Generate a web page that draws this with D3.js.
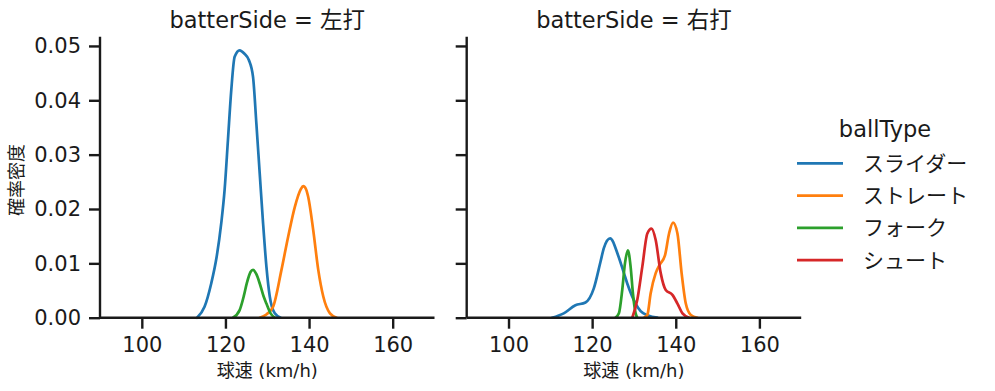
<!DOCTYPE html>
<html>
<head>
<meta charset="utf-8">
<script src="https://cdn.jsdelivr.net/npm/d3@7"></script>
<style>
  body { margin: 0; background: #fff; }
  svg text { font-family: "DejaVu Sans", "Noto Sans CJK JP", sans-serif; fill: #1a1a1a; }
</style>
</head>
<body>
<div id="chart"></div>
<script>
var width = 995,
    height = 391;

// facet values and legend categories
var panels = ["左打", "右打"];
var ballTypes = ["スライダー", "ストレート", "フォーク", "シュート"];
var colors = ["#1f77b4", "#ff7f0e", "#2ca02c", "#d62728"];
var xTicks = [100, 120, 140, 160];
var yTicks = [0, 0.01, 0.02, 0.03, 0.04, 0.05];

// density curves: [speed, density]
var leftSlider = [[113.2,0],[115,0.002],[116.6,0.0063],[117.9,0.0112],[119,0.0174],[119.8,0.0235],[120.6,0.0327],[121.4,0.0419],[122.2,0.048],[123.4,0.0492],[124.5,0.0486],[125.6,0.0474],[126.6,0.0443],[127.4,0.0357],[128.2,0.0265],[129.0,0.0174],[129.8,0.0094],[130.6,0.0039],[131.8,0.0008],[133.2,0]];
var leftStraight = [[128.2,0],[129.8,0.0006],[131.4,0.002],[133.4,0.0088],[135.0,0.0149],[136.6,0.0204],[138.0,0.0236],[138.6,0.0242],[139.3,0.0236],[139.8,0.0222],[141.0,0.0161],[142.2,0.0088],[143.4,0.0039],[145.0,0.0008],[146.6,0]];
var leftFork = [[121.8,0],[123.4,0.0014],[124.4,0.004],[125.1,0.0063],[126.0,0.0084],[126.6,0.0088],[127.4,0.008],[128.2,0.0063],[129.1,0.004],[129.8,0.0026],[130.8,0.0008],[131.8,0]];
var rightSlider = [[110.4,0],[113.2,0.0008],[116.0,0.0023],[118.4,0.0028],[120.4,0.0054],[122.0,0.0103],[122.8,0.0128],[124.3,0.0146],[126.2,0.0115],[127.6,0.0082],[128.4,0.0063],[130.4,0.0026],[131.6,0.0012],[133.4,0.0004],[135.6,0]];
var rightStraight = [[132.4,0],[133.2,0.0005],[134.0,0.0045],[135.2,0.0082],[136.2,0.0098],[137.4,0.0114],[138.4,0.0155],[139.35,0.0175],[140.4,0.0155],[141.4,0.0082],[142.4,0.0026],[143.6,0.0005],[145.2,0]];
var rightFork = [[125.6,0],[126.4,0.0008],[127.2,0.0051],[127.85,0.01],[128.55,0.0124],[129.2,0.0094],[129.75,0.0045],[130.4,0.0008],[130.8,0]];
var rightShoot = [[129.6,0],[130.8,0.0033],[132.0,0.0094],[133.2,0.0155],[134.2,0.0164],[135.2,0.0143],[136.4,0.0082],[137.6,0.0051],[139.2,0.0042],[140.4,0.0026],[141.6,0.0008],[143.2,0]];

var series = [
  [leftSlider, leftStraight, leftFork, null],
  [rightSlider, rightStraight, rightFork, rightShoot]
];

var svg = d3.select("#chart").append("svg")
    .attr("width", width)
    .attr("height", height);

var y = d3.scaleLinear()
    .domain([0, 0.0517])
    .range([317.7, 36.7]);

var panelLeft = [100, 466.7],
    panelWidth = 334.5;

var line = d3.line()
    .x(function(d) { return d[0]; })
    .y(function(d) { return d[1]; })
    .curve(d3.curveMonotoneX);

panels.forEach(function(side, i) {
    var x = d3.scaleLinear()
        .domain([90, 170])
        .range([panelLeft[i], panelLeft[i] + panelWidth]);

    var g = svg.append("g");

    // curves
    series[i].forEach(function(pts, j) {
        if (!pts) return;
        g.append("path")
            .attr("d", line(pts.map(function(p) { return [x(p[0]), y(p[1])]; })))
            .attr("fill", "none")
            .attr("stroke", colors[j])
            .attr("stroke-width", 2.7)
            .attr("stroke-linejoin", "round")
            .attr("stroke-linecap", "round");
    });

    // x axis
    var xa = g.append("g")
        .attr("transform", "translate(0," + y(0) + ")")
        .call(d3.axisBottom(x).tickValues(xTicks).tickSize(11).tickPadding(8).tickSizeOuter(0));
    // y axis
    var ya = g.append("g")
        .attr("transform", "translate(" + panelLeft[i] + ",0)")
        .call(d3.axisLeft(y).tickValues(yTicks).tickSize(11).tickPadding(8).tickSizeOuter(0)
              .tickFormat(i === 0 ? d3.format(".2f") : ""));

    [xa, ya].forEach(function(a) {
        a.select(".domain").attr("stroke", "#1a1a1a").attr("stroke-width", 2.4);
        a.selectAll(".tick line").attr("stroke", "#1a1a1a").attr("stroke-width", 2.4);
        a.selectAll(".tick text").attr("font-size", 21).attr("fill", "#1a1a1a")
            .style("font-family", "'DejaVu Sans', sans-serif");
    });
    // spines span the full axes box
    ya.select(".domain").attr("d", "M0," + y(0) + "V" + y.range()[1]);
    xa.select(".domain").attr("d", "M" + panelLeft[i] + ",0H" + (panelLeft[i] + panelWidth));

    // facet title
    g.append("text")
        .attr("x", panelLeft[i] + panelWidth / 2)
        .attr("y", 28)
        .attr("text-anchor", "middle")
        .attr("font-size", 22.5)
        .text("batterSide = " + side);

    // x label
    g.append("text")
        .attr("x", panelLeft[i] + panelWidth / 2)
        .attr("y", 377)
        .attr("text-anchor", "middle")
        .attr("font-size", 18)
        .text("球速 (km/h)");
});

// y label
svg.append("text")
    .attr("transform", "translate(23,180) rotate(-90)")
    .attr("text-anchor", "middle")
    .attr("font-size", 18)
    .text("確率密度");

// legend
var legend = svg.append("g");
legend.append("text")
    .attr("x", 885)
    .attr("y", 137)
    .attr("text-anchor", "middle")
    .attr("font-size", 22.5)
    .text("ballType");

ballTypes.forEach(function(name, j) {
    var ly = 163.3 + j * 32.3;
    legend.append("line")
        .attr("x1", 797).attr("x2", 843)
        .attr("y1", ly).attr("y2", ly)
        .attr("stroke", colors[j])
        .attr("stroke-width", 2.7);
    legend.append("text")
        .attr("x", 863)
        .attr("y", ly)
        .attr("dy", "0.35em")
        .attr("font-size", 21)
        .text(name);
});
</script>
</body>
</html>
